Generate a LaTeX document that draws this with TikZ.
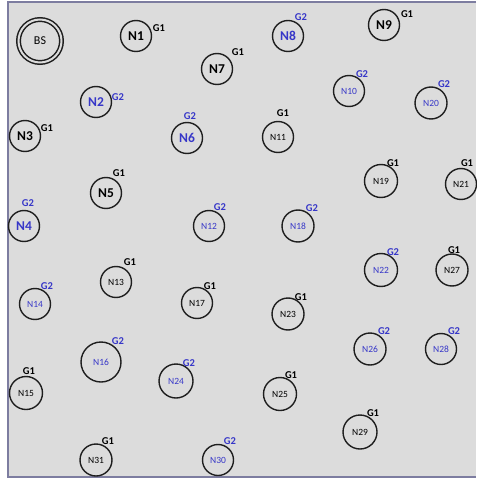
\documentclass[tikz,border=0pt]{standalone}
\usepackage{fontspec}
\setmainfont{Carlito}
\usetikzlibrary{positioning}
\definecolor{bggray}{RGB}{220,220,220}
\definecolor{framegray}{RGB}{125,125,160}
\definecolor{grpblue}{RGB}{55,55,200}
\definecolor{ringgray}{RGB}{30,30,30}

\begin{document}
\begin{tikzpicture}[x=1pt, y=-1pt,
    sensor/.style={circle, draw=ringgray, line width=1.4pt, inner sep=0pt, minimum size=#1},
    sensor/.default=31pt,
    glabel/.style={font=\bfseries\fontsize{10.5}{10.5}\selectfont, inner sep=0pt}]
  \useasboundingbox (0,0) rectangle (476,478);
  % Field
  \fill[bggray] (8,2) rectangle (476,477);
  \draw[framegray, line width=2pt] (476,2) -- (8,2) -- (8,477) -- (476,477);

  % Base station
  \node[sensor=43pt, double=bggray, double distance=2pt, line width=1.5pt,
        font=\fontsize{12}{12}\selectfont] (BS) at (40,41) {BS};

  % Nodes N1 to N9
  \foreach \n/\x/\y/\col/\g/\gx/\gy in {
      1/136/36/black/G1/159/28, 2/96/102/grpblue/G2/118/97,
      3/25/136/black/G1/47/128, 4/24/226/grpblue/G2/28/203,
      5/106/193/black/G1/119/173, 6/187/138/grpblue/G2/190/116,
      7/217/69/black/G1/238/52, 8/288/36/grpblue/G2/301/17,
      9/384/25/black/G1/407/14} {
    \node[sensor, text=\col, font=\bfseries\fontsize{13.5}{13.5}\selectfont] (N\n) at (\x,\y) {N\n};
    \node[glabel, text=\col] (gN\n) at (\gx,\gy) {\g};
  }

  % Nodes N10 to N31
  \foreach \n/\x/\y/\col/\g/\gx/\gy/\s in {
      10/349/91/grpblue/G2/362/74/31, 11/278/137/black/G1/283/113/31,
      12/209/226/grpblue/G2/220/207/31, 13/116/282/black/G1/130/262/31,
      14/35/304/grpblue/G2/47/286/31, 15/26/393/black/G1/29/371/33,
      16/101/362/grpblue/G2/118/341/40, 17/197/303/black/G1/210/286/31,
      18/298/226/grpblue/G2/312/208/32, 19/381/181/black/G1/393/163/33,
      20/431/103/grpblue/G2/444/84/32, 21/461/184/black/G1/467/163/31,
      22/381/270/grpblue/G2/393/252/33, 23/288/314/black/G1/301/297/32,
      24/176/381/grpblue/G2/189/363/34, 25/280/394/black/G1/291/375/33,
      26/370/349/grpblue/G2/384/331/32, 27/452/270/black/G1/454/250/32,
      28/441/349/grpblue/G2/454/331/31, 29/360/432/black/G1/373/413/34,
      30/218/460/grpblue/G2/230/441/31, 31/96/460/black/G1/108/441/32} {
    \node[sensor=\s pt, text=\col, font=\fontsize{9.5}{9.5}\selectfont] (N\n) at (\x,\y) {N\n};
    \node[glabel, text=\col] (gN\n) at (\gx,\gy) {\g};
  }
\end{tikzpicture}
\end{document}
